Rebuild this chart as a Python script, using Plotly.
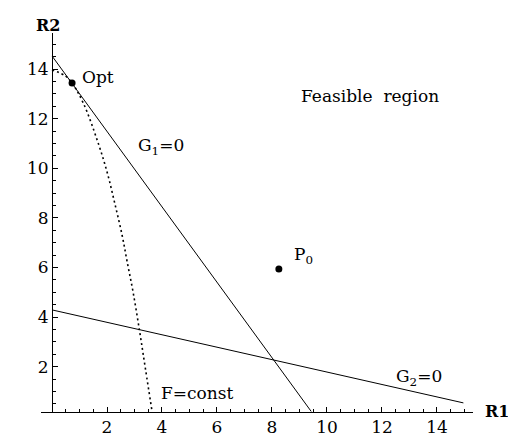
import plotly.graph_objects as go

# ---- data ----
g1_r1 = [0.0, 9.43]
g1_r2 = [14.53, 0.19]

g2_r1 = [0.0, 14.96]
g2_r2 = [4.29, 0.54]

f_r1 = [0.0, 0.49, 0.73, 1.15, 1.67, 2.01, 2.28, 2.55, 2.73, 2.95, 3.19, 3.40, 3.64]
f_r2 = [13.97, 13.72, 13.44, 12.6, 11.05, 9.82, 8.6, 7.3, 6.25, 5.0, 3.4, 1.9, 0.19]

opt_r1 = [0.73]
opt_r2 = [13.44]

p0_r1 = [8.25]
p0_r2 = [5.94]

tick_vals = [2, 4, 6, 8, 10, 12, 14]
tick_text = ["2", "4", "6", "8", "10", "12", "14"]

FONT = "DejaVu Serif"
W, H = 508, 436

fig = go.Figure()
line_style = dict(color="black", width=1)
fig.add_trace(go.Scatter(x=g1_r1, y=g1_r2, mode="lines", line=line_style, cliponaxis=False))
fig.add_trace(go.Scatter(x=g2_r1, y=g2_r2, mode="lines", line=line_style, cliponaxis=False))
fig.add_trace(go.Scatter(x=f_r1, y=f_r2, mode="lines",
                         line=dict(color="black", width=1.6, dash="2px,3px", shape="spline",
                                   smoothing=1.0),
                         cliponaxis=False))
fig.add_trace(go.Scatter(x=opt_r1 + p0_r1, y=opt_r2 + p0_r2, mode="markers",
                         marker=dict(color="black", size=7), cliponaxis=False))

tf = dict(family=FONT, size=17, color="black")
ann = [
    dict(x=1.0, y=13.69, text="Opt", xanchor="left"),
    dict(x=11.55, y=12.93, text="Feasible\u00a0 region"),
    dict(x=3.98, y=10.87, text="G<sub>1</sub>=0"),
    dict(x=8.73, y=6.5, text="P<sub>0</sub>", xanchor="left"),
    dict(x=13.36, y=1.56, text="G<sub>2</sub>=0"),
    dict(x=5.29, y=0.93, text="F=const"),
]
annotations = []
for a in ann:
    d = dict(xref="x", yref="y", showarrow=False, font=tf,
             xanchor=a.get("xanchor", "center"), yanchor="middle")
    d.update({k: v for k, v in a.items() if k != "xanchor"})
    annotations.append(d)
annotations.append(dict(xref="paper", yref="paper", x=48.3 / W, y=1 - 25 / H, text="<b>R2</b>",
                        showarrow=False, font=dict(family=FONT, size=16, color="black"),
                        xanchor="center", yanchor="middle"))
annotations.append(dict(xref="paper", yref="paper", x=496.7 / W, y=1 - 411 / H, text="<b>R1</b>",
                        showarrow=False, font=dict(family=FONT, size=16, color="black"),
                        xanchor="center", yanchor="middle"))

axis_common = dict(
    showgrid=False, zeroline=False, showline=True, linecolor="black", linewidth=1,
    ticks="inside", ticklen=5, tickwidth=1, tickcolor="black",
    tickvals=tick_vals, ticktext=tick_text,
    tickfont=dict(family=FONT, size=17, color="black"),
    minor=dict(dtick=0.5, tick0=0, ticks="inside", ticklen=3, tickwidth=1, tickcolor="black"),
    automargin=False, fixedrange=True,
)

fig.update_layout(
    width=W, height=H,
    margin=dict(l=0, r=0, t=0, b=0),
    paper_bgcolor="white", plot_bgcolor="white",
    showlegend=False,
    xaxis=dict(range=[-0.4, 15.31], domain=[41 / W, 473 / W], **axis_common),
    yaxis=dict(range=[0.185, 15.456], domain=[1 - 411.7 / H, 1 - 33 / H],
               anchor="free", position=52 / W, side="left", **axis_common),
    annotations=annotations,
)

fig.write_html("out.html", config={"displayModeBar": False},
               post_script="document.body.style.margin='0';document.body.style.padding='0';"
                           "document.body.style.overflow='hidden';")
